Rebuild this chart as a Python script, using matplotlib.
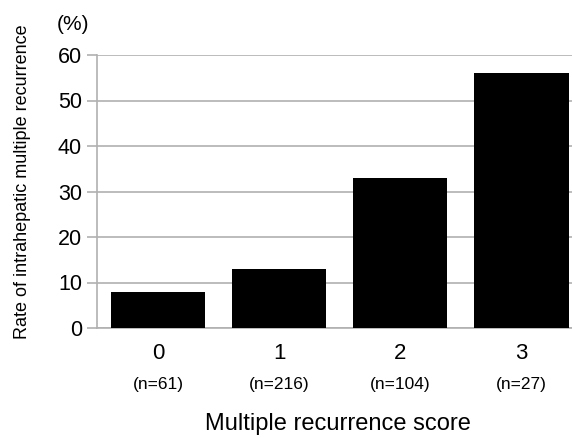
import numpy as np
import matplotlib.pyplot as plt
from matplotlib import transforms

plt.rcParams['font.family'] = ['Liberation Sans', 'DejaVu Sans']

# data
scores = ["0", "1", "2", "3"]
n_labels = ["(n=61)", "(n=216)", "(n=104)", "(n=27)"]
rates = [8, 13, 33, 56]

W, H = 572, 437
fig = plt.figure(figsize=(W / 100, H / 100), dpi=100)
# axes runs off the right side of the picture, as in the reference
left, right, bottom, top = 97.3, 582, 328, 55
ax = fig.add_axes([left / W, 1 - bottom / H, (right - left) / W, (bottom - top) / H])

x = np.arange(len(scores))
ax.bar(x, rates, width=0.78, color="black", zorder=3)

ax.set_xlim(-0.5, 3.5)
ax.set_ylim(0, 60)
ax.set_yticks(np.arange(0, 61, 10))
ax.yaxis.grid(True, color="#b0b0b0", lw=1.2, zorder=0)
ax.tick_params(axis="y", length=7, width=1.2, color="#b0b0b0", labelsize=15.5, pad=4)
ax.tick_params(axis="x", length=0, labelsize=16, pad=11)
ax.set_xticks(x)
ax.set_xticklabels(scores)
for s in ["top", "right"]:
    ax.spines[s].set_visible(False)
ax.spines["left"].set_color("#b0b0b0")
ax.spines["left"].set_linewidth(1.2)
ax.spines["bottom"].set_color("#b0b0b0")
ax.spines["bottom"].set_linewidth(1.2)

trans = transforms.blended_transform_factory(ax.transData, fig.transFigure)
for xi, lab in zip(x, n_labels):
    ax.text(xi, 1 - 384 / H, lab, transform=trans, ha="center", va="center", fontsize=12.5)

fig.text(338 / W, 1 - 424 / H, "Multiple recurrence score", ha="center", va="center", fontsize=17)
fig.text(23 / W, 1 - 182 / H, "Rate of intrahepatic multiple recurrence", rotation=90,
         ha="center", va="center", fontsize=13)
fig.text(73 / W, 1 - 25 / H, "(%)", ha="center", va="center", fontsize=15)

fig.savefig("out.png", dpi=100)
